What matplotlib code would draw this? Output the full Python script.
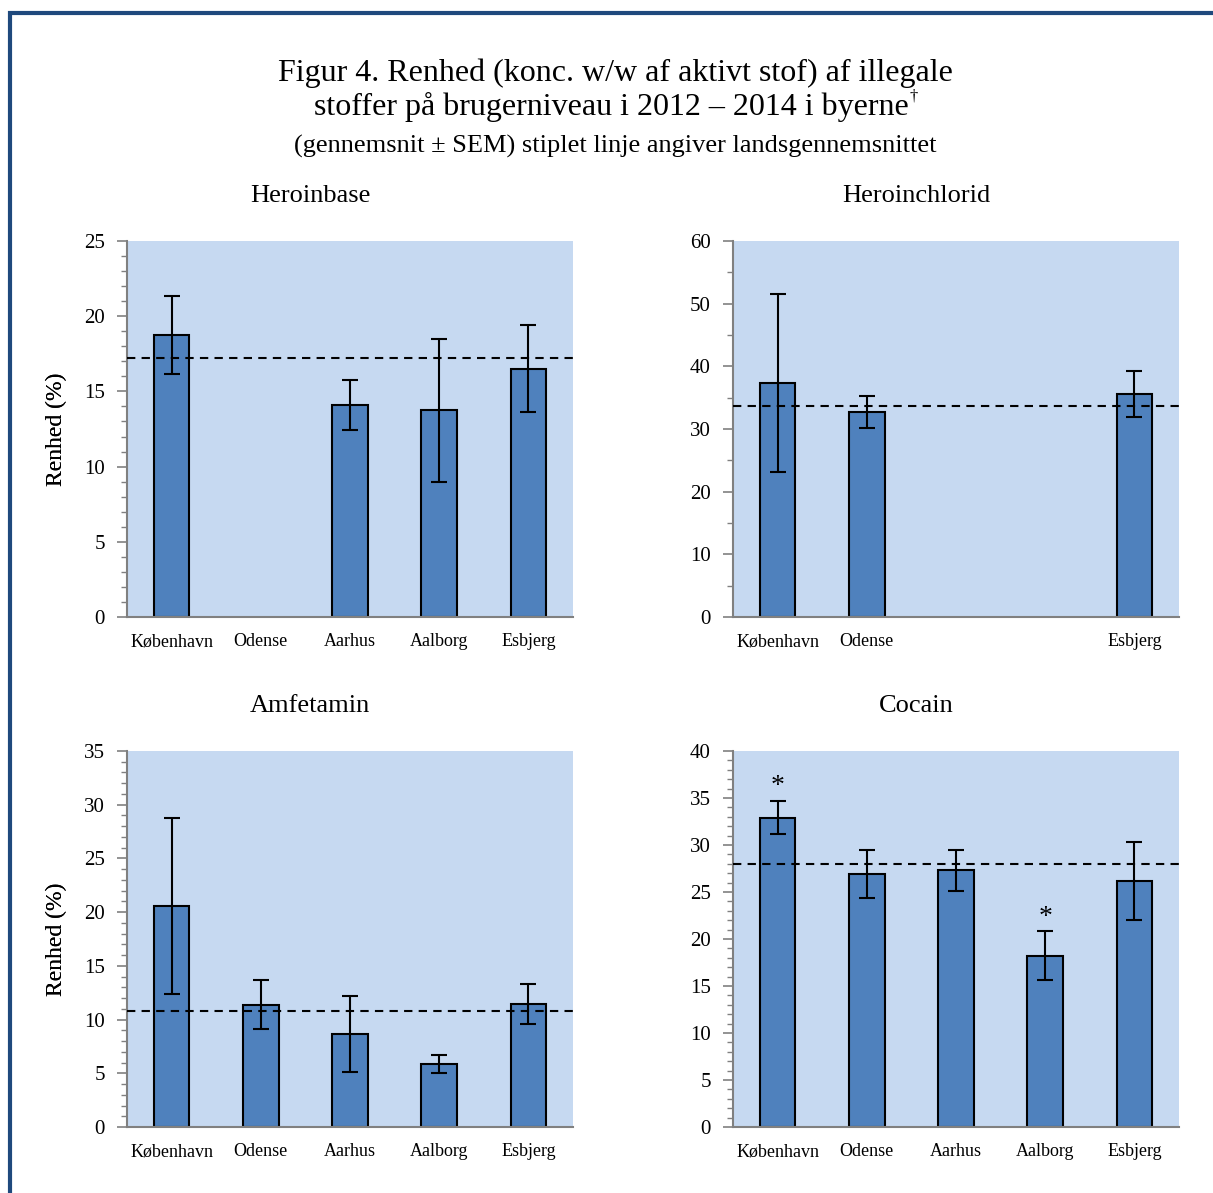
import matplotlib
matplotlib.use("Agg")
import matplotlib.pyplot as plt
import matplotlib.patches
from matplotlib.ticker import MultipleLocator

plt.rcParams['font.family'] = ['Liberation Serif', 'DejaVu Serif']

cities = ["København", "Odense", "Aarhus", "Aalborg", "Esbjerg"]

# mean purity (%) and SEM per city, None = no data
heroinbase_mean = [18.75, None, 14.1, 13.75, 16.5]
heroinbase_sem = [2.6, None, 1.65, 4.75, 2.9]
heroinbase_avg = 17.2
heroinbase_labels = cities

heroinchlorid_mean = [37.3, 32.7, None, None, 35.6]
heroinchlorid_sem = [14.2, 2.55, None, None, 3.65]
heroinchlorid_avg = 33.7
heroinchlorid_labels = ["København", "Odense", "", "", "Esbjerg"]

amfetamin_mean = [20.6, 11.4, 8.66, 5.87, 11.45]
amfetamin_sem = [8.2, 2.3, 3.5, 0.8, 1.9]
amfetamin_avg = 10.8

cocain_mean = [32.9, 26.9, 27.3, 18.2, 26.2]
cocain_sem = [1.75, 2.55, 2.15, 2.6, 4.15]
cocain_avg = 28.0
cocain_signif = [True, False, False, True, False]

W, H = 1213, 1193
fig = plt.figure(figsize=(W / 100, H / 100), dpi=100)

# frame (only left and top edge visible in the original)
frame = matplotlib.patches.Rectangle((9.5 / W, -0.05), 1.1, 1 - 12.5 / H + 0.05,
                                     transform=fig.transFigure, fill=False,
                                     edgecolor="#1F497D", linewidth=3)
fig.patches.append(frame)

fig.text(615 / W, 1 - 73 / H, "Figur 4. Renhed (konc. w/w af aktivt stof) af illegale",
         ha="center", va="center", fontsize=23)
line2 = fig.text(611 / W, 1 - 107 / H, "stoffer på brugerniveau i 2012 – 2014 i byerne",
                 ha="center", va="center", fontsize=23)
fig.text(615 / W, 1 - 146 / H, "(gennemsnit ± SEM) stiplet linje angiver landsgennemsnittet",
         ha="center", va="center", fontsize=19)

# superscript dagger right after line 2
r = fig.canvas.get_renderer()
bb = line2.get_window_extent(renderer=r)
fig.text(bb.x1 / W + 1 / W, 1 - 97 / H, "†", ha="left", va="center", fontsize=12)

panels = [
    ("Heroinbase", heroinbase_mean, heroinbase_sem, heroinbase_avg, 25, 5, 1, None, heroinbase_labels, (127, 241)),
    ("Heroinchlorid", heroinchlorid_mean, heroinchlorid_sem, heroinchlorid_avg, 60, 10, 5, None, heroinchlorid_labels, (733, 241)),
    ("Amfetamin", amfetamin_mean, amfetamin_sem, amfetamin_avg, 35, 5, 1, None, cities, (127, 751)),
    ("Cocain", cocain_mean, cocain_sem, cocain_avg, 40, 5, 1, cocain_signif, cities, (733, 751)),
]

aw, ah = 446, 376
for title, means, sems, avg, ymax, major, minor, signif, labels, (x0, y0) in panels:
    ax = fig.add_axes([x0 / W, 1 - (y0 + ah) / H, aw / W, ah / H])
    ax.set_facecolor("#C6D9F1")
    xs = [i for i, m in enumerate(means) if m is not None]
    vals = [means[i] for i in xs]
    errs = [sems[i] for i in xs]
    ax.bar(xs, vals, width=0.4, color="#4F81BD", edgecolor="black", linewidth=1.5, zorder=2)
    ax.errorbar(xs, vals, yerr=errs, fmt="none", ecolor="black", elinewidth=1.5,
                capsize=6, capthick=1.5, zorder=4)
    ax.axhline(avg, color="black", linestyle=(0, (4, 3)), linewidth=1.5, zorder=3)
    if signif:
        for i in xs:
            if signif[i]:
                ax.text(i, means[i] + sems[i] + 0.005 * ymax, "*", ha="center", va="bottom", fontsize=20)
    ax.set_xlim(-0.5, 4.5)
    ax.set_ylim(0, ymax)
    ax.yaxis.set_major_locator(MultipleLocator(major))
    ax.yaxis.set_minor_locator(MultipleLocator(minor))
    ax.set_xticks(range(5))
    ax.set_xticklabels(labels, fontsize=13, va="baseline")
    ax.tick_params(axis="x", length=0, pad=21)
    ax.tick_params(axis="y", which="major", length=7, width=1.2, color="#808080", labelsize=15, pad=9)
    ax.tick_params(axis="y", which="minor", length=4, width=1, color="#808080")
    for s in ["top", "right"]:
        ax.spines[s].set_visible(False)
    for s in ["left", "bottom"]:
        ax.spines[s].set_color("#808080")
        ax.spines[s].set_linewidth(1.5)
    ax.set_ylabel("Renhed (%)", fontsize=17)
    ax.yaxis.set_label_coords(-(x0 - 67) / aw, 0.5)
    fig.text((x0 + 183) / W, 1 - (y0 - 45) / H, title, ha="center", va="center", fontsize=19)

fig.savefig("out.png", dpi=100)
